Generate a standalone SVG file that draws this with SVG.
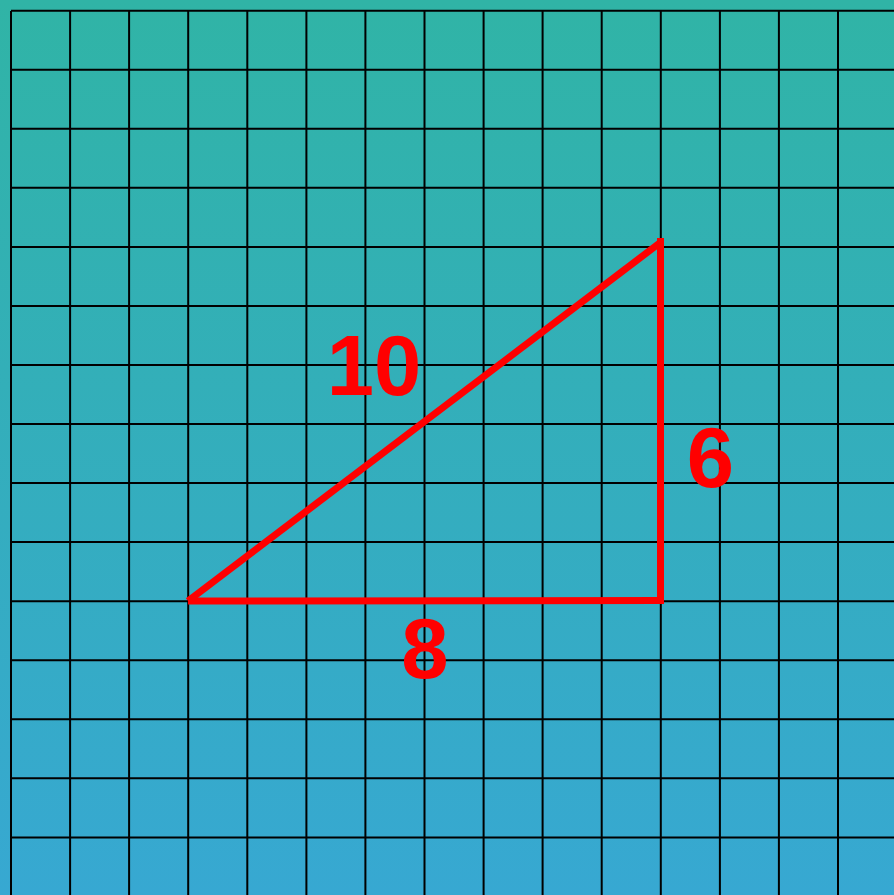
<svg xmlns="http://www.w3.org/2000/svg" width="894" height="895" viewBox="0 0 894 895">
<defs>
<linearGradient id="bg" x1="0" y1="0" x2="0" y2="1">
<stop offset="0" stop-color="#30b4a6"/>
<stop offset="1" stop-color="#37a8d2"/>
</linearGradient>
<style>
.g{stroke:#000;stroke-width:2;fill:none}
.t{stroke:#ff0000;stroke-width:7;fill:none}
.lbl{font-family:"Liberation Sans",Arial,sans-serif;font-weight:bold;fill:#ff0000;text-anchor:middle;font-size:85px}
</style>
</defs>
<rect width="894" height="895" fill="url(#bg)"/>
<g id="grid" class="g">
<path d="M11,11V895M70.1,11V895M129.1,11V895M188.2,11V895M247.3,11V895M306.4,11V895M365.4,11V895M424.5,11V895M483.6,11V895M542.6,11V895M601.7,11V895M660.8,11V895M719.9,11V895M778.9,11V895M838,11V895"/>
<path d="M11,10.7H894M11,69.7H894M11,128.8H894M11,187.8H894M11,246.9H894M11,305.9H894M11,365H894M11,424H894M11,483.1H894M11,542.1H894M11,601.2H894M11,660.2H894M11,719.3H894M11,778.3H894M11,837.4H894"/>
</g>
<g id="triangle" class="t">
<line x1="188" y1="601" x2="661" y2="242"/>
<line x1="188" y1="601" x2="661" y2="600.5"/>
<line x1="660.5" y1="604" x2="660.5" y2="238"/>
</g>
<g id="labels">
<text class="lbl" x="374" y="395">10</text>
<text class="lbl" x="710.5" y="487">6</text>
<text class="lbl" x="425" y="678">8</text>
</g>
</svg>
